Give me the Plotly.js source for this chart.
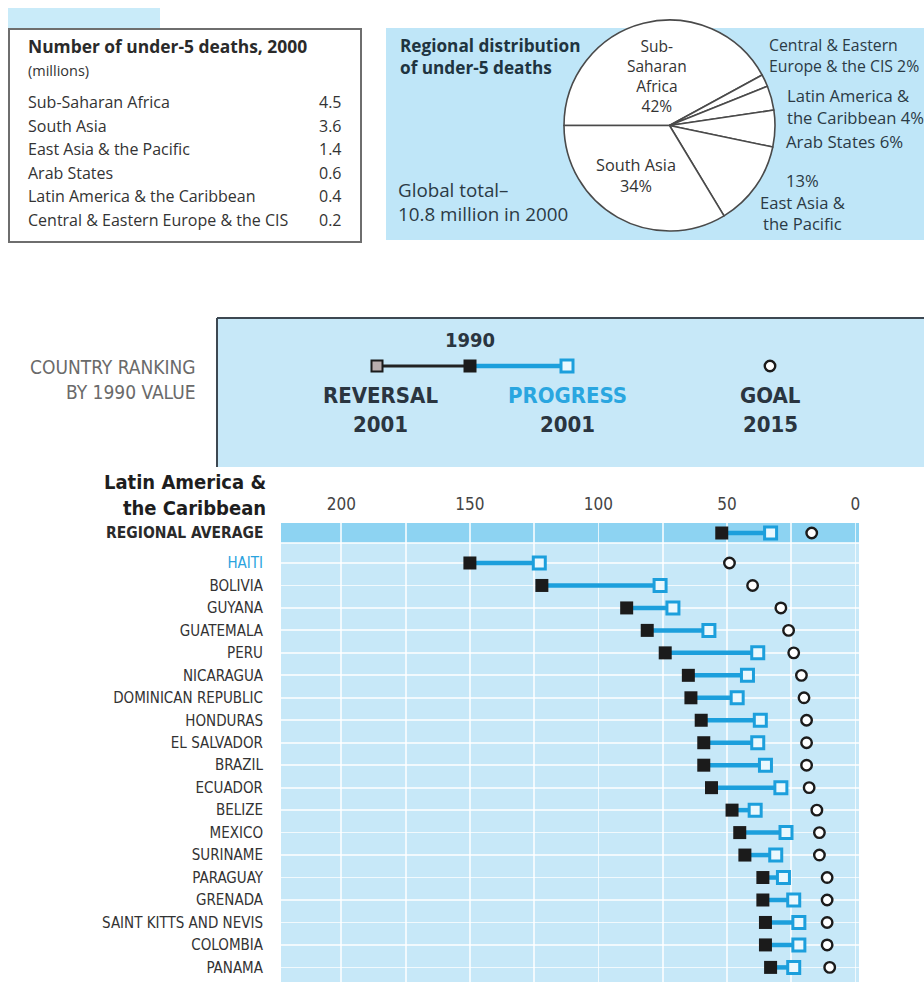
<!DOCTYPE html>
<html><head><meta charset="utf-8">
<script src="https://cdn.plot.ly/plotly-3.0.1.min.js"></script>
<style>html,body{margin:0;padding:0;background:#fff}#chart{width:924px;height:982px}</style>
</head><body><div id="chart"></div>
<script>
// ---- data ----
const tableRegions = ['Sub-Saharan Africa','South Asia','East Asia & the Pacific','Arab States','Latin America & the Caribbean','Central & Eastern Europe & the CIS'];
const tableDeaths = [4.5,3.6,1.4,0.6,0.4,0.2];

const pieRegions = ['Sub-Saharan Africa','Central & Eastern Europe & the CIS','Latin America & the Caribbean','Arab States','East Asia & the Pacific','South Asia'];
const pieValues = [4.5,0.2,0.4,0.6,1.4,3.6];

const countries = ['HAITI','BOLIVIA','GUYANA','GUATEMALA','PERU','NICARAGUA','DOMINICAN REPUBLIC','HONDURAS','EL SALVADOR','BRAZIL','ECUADOR','BELIZE','MEXICO','SURINAME','PARAGUAY','GRENADA','SAINT KITTS AND NEVIS','COLOMBIA','PANAMA'];
const u5mr1990 = [150,122,89,81,74,65,64,60,59,59,56,48,45,43,36,36,35,35,33];
const u5mr2001 = [123,76,71,57,38,42,46,37,38,35,29,39,27,31,28,24,22,22,24];
const goal2015 = [49,40,29,26,24,21,20,19,19,19,18,15,14,14,11,11,11,11,10];

const regionLabel = ['REGIONAL AVERAGE'];
const region1990 = [52];
const region2001 = [33];
const regionGoal = [17];

const xTickVals = [200,150,100,50,0];
const xTickText = ['200','150','100','50','0'];

// ---- layout helpers ----
const W = 924, H = 982;
const px = x => x / W;
const py = y => 1 - y / H;
const NARROW = "'Liberation Sans Narrow', 'Arial Narrow', 'DejaVu Sans Condensed', sans-serif";
const SANS = "'Open Sans', 'Noto Sans', sans-serif";
const CYAN = '#1c9fdc';
const DARK = '#333333';
const REGION_POS = -1.335;

const countryPos = countries.map((c, i) => i);
const allPos = [REGION_POS].concat(countryPos);
const all1990 = region1990.concat(u5mr1990);
const all2001 = region2001.concat(u5mr2001);
const allGoal = regionGoal.concat(goal2015);

// connecting segments
const segX = [], segY = [];
all1990.forEach((v, i) => { segX.push(v, all2001[i], null); segY.push(allPos[i], allPos[i], null); });

const traces = [];
traces.push({type:'scatter', mode:'lines', x:segX, y:segY, xaxis:'x', yaxis:'y',
  line:{color:CYAN, width:4.5}, hoverinfo:'skip', showlegend:false});
traces.push({type:'scatter', mode:'markers', x:all1990, y:allPos, xaxis:'x', yaxis:'y',
  marker:{symbol:'square', size:13, color:'#1b1b1b'}, showlegend:false, name:'1990'});
traces.push({type:'scatter', mode:'markers', x:all2001, y:allPos, xaxis:'x', yaxis:'y',
  marker:{symbol:'square', size:12, color:'#eaf8fe', line:{color:CYAN, width:3}}, showlegend:false, name:'2001'});
traces.push({type:'scatter', mode:'markers', x:allGoal, y:allPos, xaxis:'x', yaxis:'y',
  marker:{symbol:'circle', size:10.5, color:'#ffffff', line:{color:'#1b1b1b', width:2.4}}, showlegend:false, name:'Goal 2015'});

// pie
const total = pieValues.reduce((a, b) => a + b, 0);
const pct = pieValues.map(v => Math.round(v / total * 100));
traces.push({type:'pie', values:pieValues, labels:pieRegions, sort:false, direction:'clockwise', rotation:-90,
  textinfo:'none', hoverinfo:'label+percent', showlegend:false,
  marker:{colors:pieValues.map(() => '#ffffff'), line:{color:'#4a4a4a', width:1.6}},
  domain:{x:[px(564), px(775)], y:[py(231), py(20)]}});

// legend key (on its own hidden axes, pixel-like range)
const legX = [377, 470, 567];
const legMarkY = 366;
traces.push({type:'scatter', mode:'lines', x:[legX[0], legX[1]], y:[legMarkY, legMarkY], xaxis:'x2', yaxis:'y2',
  line:{color:'#222', width:3}, hoverinfo:'skip', showlegend:false});
traces.push({type:'scatter', mode:'lines', x:[legX[1], legX[2]], y:[legMarkY, legMarkY], xaxis:'x2', yaxis:'y2',
  line:{color:CYAN, width:4.5}, hoverinfo:'skip', showlegend:false});
traces.push({type:'scatter', mode:'markers', x:[legX[0]], y:[legMarkY], xaxis:'x2', yaxis:'y2',
  marker:{symbol:'square', size:11, color:'#b9adad', line:{color:'#1b1b1b', width:2}}, hoverinfo:'skip', showlegend:false});
traces.push({type:'scatter', mode:'markers', x:[legX[1]], y:[legMarkY], xaxis:'x2', yaxis:'y2',
  marker:{symbol:'square', size:13, color:'#1b1b1b'}, hoverinfo:'skip', showlegend:false});
traces.push({type:'scatter', mode:'markers', x:[legX[2]], y:[legMarkY], xaxis:'x2', yaxis:'y2',
  marker:{symbol:'square', size:12, color:'#eaf8fe', line:{color:CYAN, width:3}}, hoverinfo:'skip', showlegend:false});
traces.push({type:'scatter', mode:'markers', x:[770], y:[legMarkY], xaxis:'x2', yaxis:'y2',
  marker:{symbol:'circle', size:10.5, color:'#ffffff', line:{color:'#1b1b1b', width:2.4}}, hoverinfo:'skip', showlegend:false});

// annotations
const ann = [];
function txt(text, x, y, opts) {
  opts = opts || {};
  ann.push({text:text, xref:'paper', yref:'paper', x:px(x), y:py(y), showarrow:false,
    xanchor:opts.xanchor || 'left', yanchor:'middle', align:opts.align || opts.xanchor || 'left',
    font:{family:opts.family || SANS, size:opts.size || 14, color:opts.color || DARK}});
}
// table
txt('<b>Number of under-5 deaths, 2000</b>', 26, 46, {size:17.4, color:'#2a2a2a'});
txt('(millions)', 26, 71, {size:14.5});
const rowY0 = 102, rowStep = 23.6;
tableRegions.forEach((r, i) => {
  txt(r, 26, rowY0 + i * rowStep, {size:16});
  txt(tableDeaths[i].toFixed(1), 344, rowY0 + i * rowStep, {size:16, xanchor:'right'});
});
// pie box
txt('<b>Regional distribution</b><br><b>of under-5 deaths</b>', 398, 56, {size:17.2, color:'#203440'});
txt('Global total–<br>10.8 million in 2000', 396, 202, {size:18.8, color:'#2b3a45'});
txt('Sub-<br>Saharan<br>Africa<br>' + pct[0] + '%', 657, 76, {size:15.5, xanchor:'center', color:'#333'});
txt('South Asia<br>' + pct[5] + '%', 636, 176, {size:16.3, xanchor:'center', color:'#333'});
txt('Central & Eastern<br>Europe & the CIS ' + pct[1] + '%', 767, 55, {size:15.8, color:'#2b3a45'});
txt('Latin America &<br>the Caribbean ' + pct[2] + '%', 785, 106, {size:16.6, color:'#2b3a45'});
txt('Arab States ' + pct[3] + '%', 784, 142, {size:16.8, color:'#2b3a45'});
txt(pct[4] + '%<br>East Asia &<br>the Pacific', 802, 202, {size:16.6, xanchor:'center', color:'#2b3a45'});
// legend texts
txt('COUNTRY RANKING<br>BY 1990 VALUE', 198, 380, {size:19, xanchor:'right', color:'#6a6a6a', family:NARROW});
txt('<b>1990</b>', 470, 340, {size:20, xanchor:'center', color:'#2a3540', family:NARROW});
txt('<b>REVERSAL</b>', 380, 396, {size:22, xanchor:'center', color:'#2a3540', family:NARROW});
txt('<b>2001</b>', 380, 425, {size:22, xanchor:'center', color:'#2a3540', family:NARROW});
txt('<b>PROGRESS</b>', 567, 396, {size:22, xanchor:'center', color:'#2aa6e0', family:NARROW});
txt('<b>2001</b>', 567, 425, {size:22, xanchor:'center', color:'#2a3540', family:NARROW});
txt('<b>GOAL</b>', 770, 396, {size:22, xanchor:'center', color:'#2a3540', family:NARROW});
txt('<b>2015</b>', 770, 425, {size:22, xanchor:'center', color:'#2a3540', family:NARROW});
// chart title
txt('<b>Latin America &</b><br><b>the Caribbean</b>', 268, 495, {size:20, xanchor:'right', color:'#1e1e1e', family:NARROW});
// regional average label
ann.push({text:'<b>' + regionLabel[0] + '</b>', xref:'paper', yref:'y', x:px(266), y:REGION_POS, showarrow:false,
  xanchor:'right', yanchor:'middle', font:{family:NARROW, size:15.5, color:'#2a2a2a'}});

const shapes = [
  {type:'rect', xref:'paper', yref:'paper', x0:px(8), x1:px(160), y0:py(28), y1:py(8), fillcolor:'#c9ebf9', line:{width:0}, layer:'below'},
  {type:'rect', xref:'paper', yref:'paper', x0:px(9), x1:px(361), y0:py(242), y1:py(29), fillcolor:'#ffffff', line:{color:'#6e6e6e', width:2}, layer:'below'},
  {type:'rect', xref:'paper', yref:'paper', x0:px(386), x1:px(924), y0:py(240), y1:py(28), fillcolor:'#bfe6f8', line:{width:0}, layer:'below'},
  {type:'line', xref:'paper', yref:'paper', x0:px(217), x1:px(924), y0:py(318), y1:py(318), line:{color:'#3d4852', width:2}},
  {type:'line', xref:'paper', yref:'paper', x0:px(217), x1:px(217), y0:py(318), y1:py(467), line:{color:'#3d4852', width:2}},
  {type:'rect', xref:'x domain', yref:'y', x0:0, x1:1, y0:-1.78, y1:-0.89, fillcolor:'#8dd3f2', line:{width:0}, layer:'below'}
];

const layout = {
  width:W, height:H, margin:{l:0, r:0, t:0, b:0}, paper_bgcolor:'#ffffff', plot_bgcolor:'#c7e8f8',
  showlegend:false, hovermode:'closest',
  xaxis:{domain:[px(281), px(859)], range:[223.5, -1.4], side:'top', anchor:'y',
    tickmode:'array', tickvals:xTickVals, ticktext:xTickText,
    ticks:'outside', ticklen:5, tickcolor:'rgba(0,0,0,0)',
    tickfont:{family:NARROW, size:17, color:'#444'},
    showgrid:true, gridcolor:'rgba(255,255,255,0.75)', gridwidth:1.8,
    minor:{tickvals:[175,125,75,25], showgrid:true, gridcolor:'rgba(255,255,255,0.75)', gridwidth:1.8},
    zeroline:false, showline:false, fixedrange:true},
  yaxis:{domain:[0, py(523)], range:[18.65, -1.78], anchor:'x',
    tickmode:'array', tickvals:[-0.89].concat(countryPos),
    ticktext:[''].concat(countries.map((c, i) => i === 0 ? '<span style="color:#2aa3de">' + c + '</span>' : c)),
    ticks:'outside', ticklen:14, tickcolor:'rgba(0,0,0,0)',
    tickfont:{family:NARROW, size:15, color:'#333'},
    showgrid:true, gridcolor:'rgba(255,255,255,0.75)', gridwidth:1.8,
    zeroline:false, showline:false, fixedrange:true},
  xaxis2:{domain:[px(218), 1], range:[218, 924], anchor:'y2', visible:false, fixedrange:true},
  yaxis2:{domain:[py(467), py(319)], range:[467, 319], anchor:'x2', visible:false, fixedrange:true},
  shapes:shapes, annotations:ann
};

Plotly.newPlot('chart', traces, layout, {displayModeBar:false, staticPlot:true});
</script></body></html>
